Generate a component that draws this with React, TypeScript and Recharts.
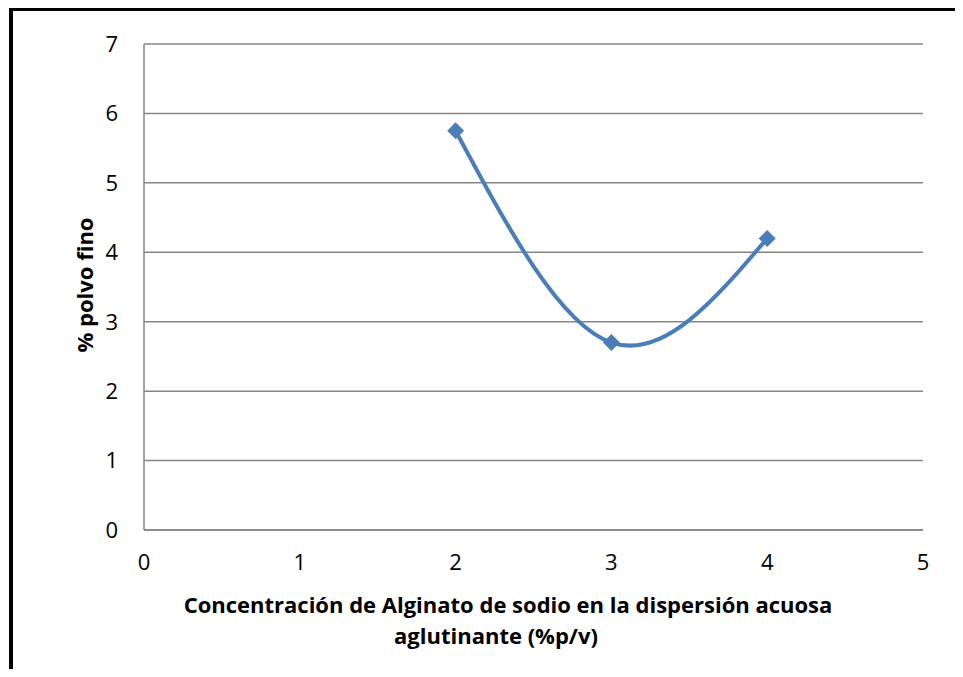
import React from "react"
import { LineChart, Line, XAxis, YAxis, CartesianGrid } from "recharts"

// Concentración de alginato (%p/v) y porcentaje de polvo fino
const concentraciones = [2, 3, 4]
const polvoFino = [5.75, 2.7, 4.2]
const ticksX = [0, 1, 2, 3, 4, 5]
const ticksY = [0, 1, 2, 3, 4, 5, 6, 7]

const data = concentraciones.map((c, i) => ({ x: c, y: polvoFino[i] }))

const FONT = "'Open Sans', 'Noto Sans', sans-serif"
const BLUE = "#4a7ebb"
const GRID = "#868686"

function Rombo(props: any) {
    const { cx, cy } = props
    if (cx == null || cy == null) return null
    const r = 8.5
    return (
        <polygon
            points={`${cx},${cy - r} ${cx + r},${cy} ${cx},${cy + r} ${cx - r},${cy}`}
            fill={BLUE}
        />
    )
}

export default function App() {
    return (
        <div style={{ position: "relative", width: 963, height: 677, margin: -8, overflow: "hidden", background: "#fff" }}>
            <div
                style={{
                    position: "absolute",
                    left: 9,
                    top: 7,
                    width: 1200,
                    height: 1200,
                    borderLeft: "4px solid #000",
                    borderTop: "4px solid #000",
                }}
            />
            <LineChart
                width={963}
                height={677}
                data={data}
                margin={{ top: 44, right: 40, bottom: 0, left: 0 }}
                style={{ position: "absolute", left: 0, top: 0 }}
            >
                <CartesianGrid vertical={false} stroke={GRID} strokeWidth={1.5} />
                <XAxis
                    dataKey="x"
                    type="number"
                    domain={[0, 5]}
                    ticks={ticksX}
                    height={147}
                    tickSize={0}
                    tickMargin={24}
                    axisLine={{ stroke: GRID, strokeWidth: 1.5 }}
                    tickLine={false}
                    tick={{ fill: "#000", fontSize: 22, fontFamily: FONT }}
                />
                <YAxis
                    type="number"
                    domain={[0, 7]}
                    ticks={ticksY}
                    width={144}
                    tickSize={0}
                    tickMargin={26}
                    axisLine={{ stroke: GRID, strokeWidth: 1.5 }}
                    tickLine={false}
                    tick={{ fill: "#000", fontSize: 22, fontFamily: FONT }}
                />
                <Line
                    type="natural"
                    dataKey="y"
                    stroke={BLUE}
                    strokeWidth={4}
                    dot={<Rombo />}
                    activeDot={false}
                    isAnimationActive={false}
                />
                <text
                    x={508}
                    y={613}
                    textAnchor="middle"
                    fontFamily={FONT}
                    fontSize={22}
                    fontWeight="bold"
                    fill="#000"
                >
                    Concentración de Alginato de sodio en la dispersión acuosa
                </text>
                <text
                    x={496}
                    y={644}
                    textAnchor="middle"
                    fontFamily={FONT}
                    fontSize={22}
                    fontWeight="bold"
                    fill="#000"
                >
                    aglutinante (%p/v)
                </text>
                <text
                    x={93}
                    y={285}
                    textAnchor="middle"
                    transform="rotate(-90 93 285)"
                    fontFamily={FONT}
                    fontSize={22}
                    fontWeight="bold"
                    fill="#000"
                >
                    % polvo fino
                </text>
            </LineChart>
        </div>
    )
}
